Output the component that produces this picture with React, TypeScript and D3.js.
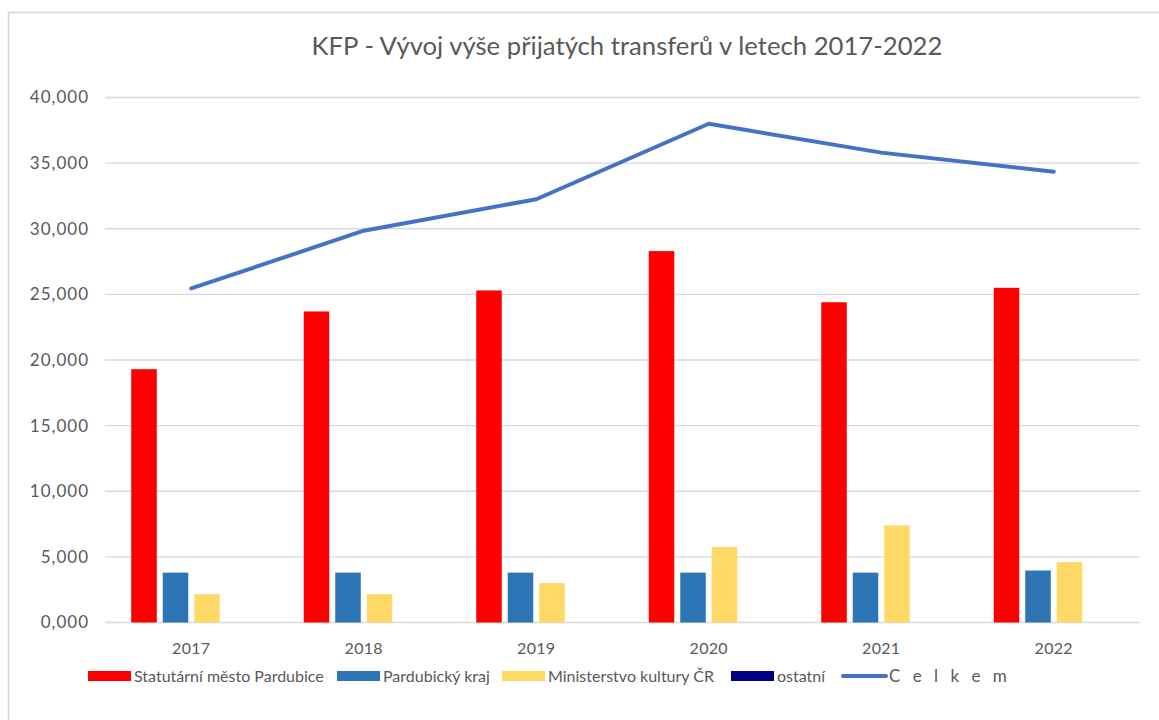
import React from "react";
import * as d3 from "d3";

const years = ["2017", "2018", "2019", "2020", "2021", "2022"];
const seriesNames = ["Statutární město Pardubice", "Pardubický kraj", "Ministerstvo kultury ČR", "ostatní"];
const mesto = [19300, 23700, 25300, 28300, 24400, 25500];
const kraj = [3800, 3800, 3800, 3800, 3800, 3960];
const ministerstvo = [2150, 2150, 3000, 5750, 7400, 4600];
const ostatni = [0, 0, 0, 0, 0, 0];
const celkem = [25450, 29850, 32250, 38000, 35800, 34350];
const yTicks = [0, 5000, 10000, 15000, 20000, 25000, 30000, 35000, 40000];
const lineName = "C e l k e m";
const title = "KFP - Vývoj výše přijatých transferů v letech 2017-2022";

const colors = ["#FF0000", "#2E75B6", "#FFD966", "#000080"];
const lineColor = "#4472C4";
const textColor = "#595959";
const font = "Lato, 'Open Sans', sans-serif";

export default function App() {
  const W = 1159, H = 720;
  const plotL = 105, plotR = 1140, plotT = 97.5, plotB = 622.5;
  const x = d3.scaleBand<string>().domain(years).range([plotL, plotR]).padding(0);
  const groupW = 120;
  const x1 = d3.scaleBand<string>().domain(seriesNames).range([0, groupW]).paddingInner(0.19).paddingOuter(0);
  const y = d3.scaleLinear().domain([0, 40000]).range([plotB, plotT]);
  const tickLabel = (v: number) => (v / 1000).toFixed(3).replace(".", ",");
  const allSeries = [mesto, kraj, ministerstvo, ostatni];
  const line = d3.line<number>()
    .x((_, i) => (x(years[i]) as number) + x.bandwidth() / 2)
    .y((d) => y(d));

  const legendItems = [
    { name: seriesNames[0], type: "bar", color: colors[0], x: 88, ls: 0 },
    { name: seriesNames[1], type: "bar", color: colors[1], x: 337, ls: 0 },
    { name: seriesNames[2], type: "bar", color: colors[2], x: 502, ls: 0 },
    { name: seriesNames[3], type: "bar", color: colors[3], x: 731, ls: 0 },
    { name: lineName, type: "line", color: lineColor, x: 843, ls: 4 },
  ];
  const legendY = 676;

  return (
    <svg width={W} height={H} style={{ position: "absolute", left: 0, top: 0, background: "#fff" }} fontFamily={font}>
      <rect x={8.5} y={12.5} width={1170} height={730} fill="#fff" stroke="#D4D4D4" strokeWidth={1.5} />
      <text x={627} y={55} textAnchor="middle" fontSize={25.7} fill={textColor}>{title}</text>
      {yTicks.map((t) => (
        <g key={t}>
          <line x1={plotL} x2={plotR} y1={y(t)} y2={y(t)} stroke="#D9D9D9" strokeWidth={1.3} />
          <text x={89} y={y(t)} dy="0.35em" textAnchor="end" fontSize={17} letterSpacing={1} fill={textColor}>{tickLabel(t)}</text>
        </g>
      ))}
      {years.map((yr, i) => {
        const gx = (x(yr) as number) + (x.bandwidth() - groupW) / 2;
        return (
          <g key={yr}>
            {allSeries.map((s, si) => (
              <rect key={si} x={gx + (x1(seriesNames[si]) as number)} y={y(s[i])} width={x1.bandwidth()} height={plotB - y(s[i])} fill={colors[si]} />
            ))}
            <text x={(x(yr) as number) + x.bandwidth() / 2} y={648} dy="0.35em" textAnchor="middle" fontSize={16} letterSpacing={0.3} fill={textColor}>{yr}</text>
          </g>
        );
      })}
      <path d={line(celkem) || ""} fill="none" stroke={lineColor} strokeWidth={4} strokeLinecap="round" strokeLinejoin="round" />
      {legendItems.map((it) => (
        <g key={it.name}>
          {it.type === "bar" ? (
            <rect x={it.x} y={legendY - 5} width={43} height={10} fill={it.color} />
          ) : (
            <line x1={it.x} x2={it.x + 43} y1={legendY} y2={legendY} stroke={it.color} strokeWidth={4} strokeLinecap="round" />
          )}
          <text x={it.x + 46} y={legendY} dy="0.35em" fontSize={it.ls ? 17 : 16} letterSpacing={it.ls} fill={textColor}>{it.name}</text>
        </g>
      ))}
    </svg>
  );
}
